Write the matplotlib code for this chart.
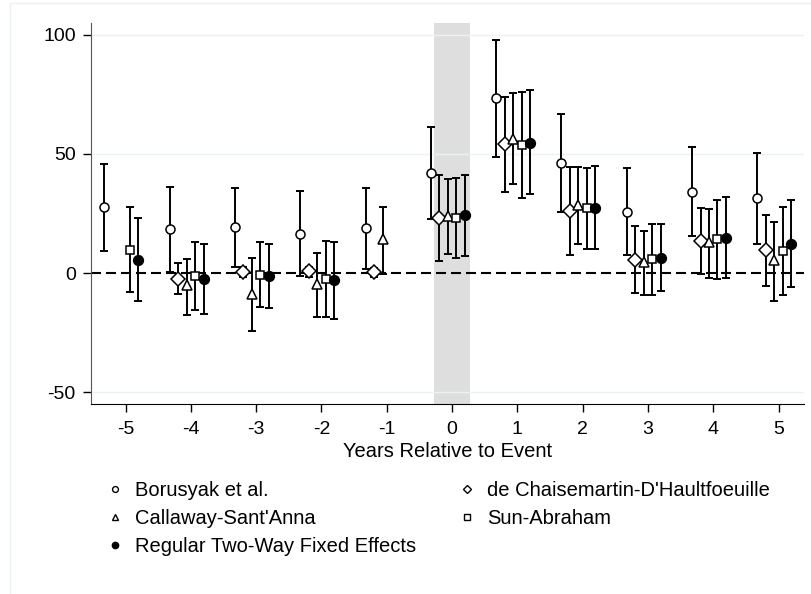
import numpy as np
import matplotlib.pyplot as plt
from matplotlib.lines import Line2D

plt.rcParams['font.family'] = ['Liberation Sans', 'DejaVu Sans']
plt.rcParams['axes.unicode_minus'] = False

nan = np.nan
periods = np.array([-5, -4, -3, -2, -1, 0, 1, 2, 3, 4, 5])

# Borusyak et al.
bjs_est = [27.6, 18.4, 19.3, 16.6, 19.0, 41.9, 73.3, 46.2, 25.7, 34.2, 31.4]
bjs_lo = [9.3, 0.4, 2.5, -1.3, 1.8, 22.7, 48.8, 25.5, 7.5, 15.6, 12.4]
bjs_hi = [45.9, 36.2, 35.9, 34.5, 35.9, 61.2, 97.8, 66.7, 44.3, 52.9, 50.6]

# de Chaisemartin-D'Haultfoeuille
dcdh_est = [nan, -2.4, 0.4, 0.8, 0.4, 23.2, 54.3, 26.2, 5.6, 13.5, 9.6]
dcdh_lo = [nan, -9.0, -1.8, -1.7, -1.5, 4.9, 34.2, 7.5, -8.4, -0.3, -5.5]
dcdh_hi = [nan, 4.1, 2.4, 2.5, 2.0, 41.2, 74.1, 44.7, 19.8, 27.2, 24.3]

# Callaway-Sant'Anna
cs_est = [nan, -5.2, -8.7, -4.5, 14.2, 24.0, 56.4, 28.6, 4.6, 13.1, 5.4]
cs_lo = [nan, -17.6, -24.5, -18.6, -0.3, 8.2, 37.3, 12.1, -9.1, -1.9, -11.8]
cs_hi = [nan, 6.1, 6.3, 8.4, 27.8, 39.5, 75.4, 44.7, 17.7, 26.9, 21.5]

# Sun-Abraham
sa_est = [9.7, -1.4, -1.0, -2.4, nan, 23.2, 53.6, 27.2, 5.8, 14.2, 9.3]
sa_lo = [-8.0, -15.7, -14.1, -18.6, nan, 6.5, 31.6, 10.0, -9.1, -2.4, -9.4]
sa_hi = [27.6, 13.1, 13.1, 13.5, nan, 39.8, 75.9, 43.9, 20.8, 30.7, 27.8]

# Regular two-way fixed effects
twfe_est = [5.6, -2.7, -1.4, -3.1, nan, 24.3, 54.8, 27.4, 6.5, 14.9, 12.4]
twfe_lo = [-11.9, -17.1, -14.6, -19.2, nan, 7.0, 33.1, 9.9, -7.6, -1.9, -5.9]
twfe_hi = [23.2, 12.1, 12.1, 13.1, nan, 41.2, 76.7, 45.0, 20.4, 31.8, 30.7]

series = [
    ("Borusyak et al.", bjs_est, bjs_lo, bjs_hi, 'o', 'white', 6.5),
    ("de Chaisemartin-D'Haultfoeuille", dcdh_est, dcdh_lo, dcdh_hi, 'D', 'white', 6.8),
    ("Callaway-Sant'Anna", cs_est, cs_lo, cs_hi, '^', 'white', 7.0),
    ("Sun-Abraham", sa_est, sa_lo, sa_hi, 's', 'white', 6.3),
    ("Regular Two-Way Fixed Effects", twfe_est, twfe_lo, twfe_hi, 'o', 'black', 7.0),
]
offsets = [-0.325, -0.195, -0.065, 0.065, 0.195]

fig = plt.figure(figsize=(8.12, 5.94), dpi=100)
ax = fig.add_axes([91 / 812, 1 - 404 / 594, 713 / 812, 381 / 594])

ax.axvspan(-0.27, 0.27, color='#dedede', lw=0, zorder=0)
for g in [-50, 50, 100]:
    ax.axhline(g, color='#eaf2f3', lw=1.0, zorder=0.5)
ax.axhline(0, color='black', lw=1.5, dashes=(4.8, 2.4), zorder=1)

handles = {}
for (name, est, lo, hi, mk, fc, ms), off in zip(series, offsets):
    est, lo, hi = np.array(est), np.array(lo), np.array(hi)
    x = periods + off
    ax.errorbar(x, est, yerr=[est - lo, hi - est], fmt='none', ecolor='black',
                elinewidth=1.4, capsize=3, capthick=1.4, zorder=2)
    ax.plot(x, est, ls='none', marker=mk, ms=ms, mfc=fc, mec='black', mew=1.1, zorder=3)
    handles[name] = Line2D([], [], ls='none', marker=mk, ms=ms * 0.65, mfc=fc,
                           mec='black', mew=1.0)

ax.set_xlim(-5.53, 5.39)
ax.set_ylim(-55, 105)
ax.set_xticks(periods)
ax.set_yticks([-50, 0, 50, 100])
ax.tick_params(labelsize=14, length=6, width=1.0, direction='out', pad=5)
ax.tick_params(axis='x', pad=6)
ax.set_xlabel('Years Relative to Event', fontsize=14.5, labelpad=3)
for s in ['top', 'right']:
    ax.spines[s].set_visible(False)
ax.spines['left'].set_color('#555555')
ax.spines['bottom'].set_color('black')

order = ["Borusyak et al.", "Callaway-Sant'Anna", "Regular Two-Way Fixed Effects",
         "de Chaisemartin-D'Haultfoeuille", "Sun-Abraham"]
fig.legend([handles[n] for n in order], order, ncol=2, frameon=False,
           loc='upper left', bbox_to_anchor=(105 / 812, 1 - 481 / 594),
           fontsize=14.5, handlelength=1.0, handletextpad=0.48,
           columnspacing=2.05, labelspacing=0.45, borderpad=0, borderaxespad=0)

# light outline of the graph region
fig.add_artist(Line2D([10 / 812, 10 / 812], [0, 1 - 3 / 594], color='#eaf2f3', lw=1.0))
fig.add_artist(Line2D([10 / 812, 1], [1 - 3 / 594, 1 - 3 / 594], color='#eaf2f3', lw=1.0))

fig.savefig('out.png', dpi=100)
